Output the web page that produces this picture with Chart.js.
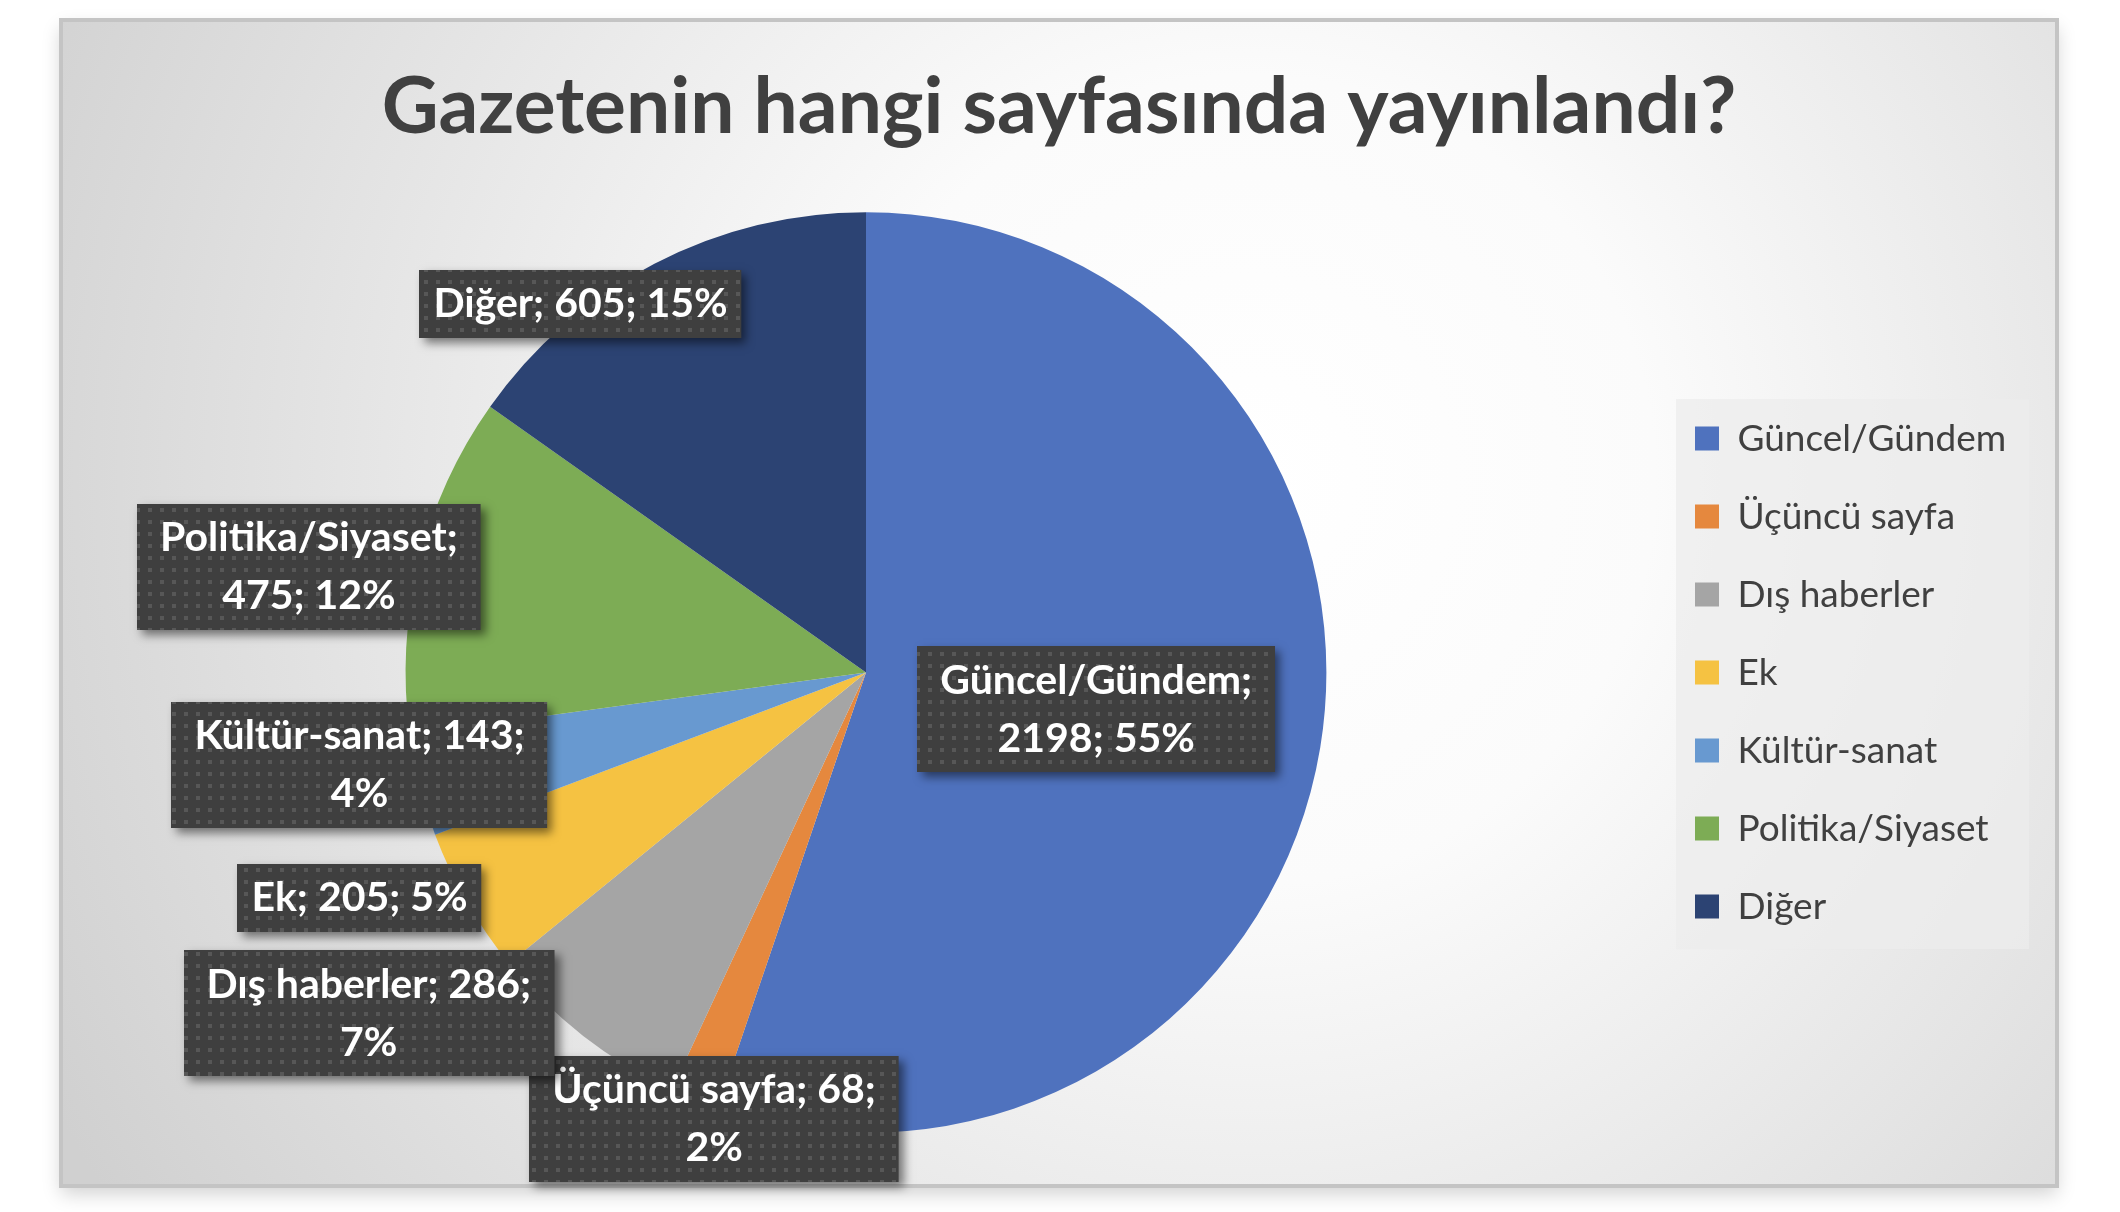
<!DOCTYPE html>
<html><head><meta charset="utf-8">
<script src="https://cdn.jsdelivr.net/npm/chart.js@4.4.1/dist/chart.umd.min.js"></script>
<style>html,body{margin:0;padding:0;background:#fff;overflow:hidden}canvas{display:block}</style>
</head><body>
<canvas id="c" width="2120" height="1212"></canvas>
<script>
// ---- data ----
const categories = ['Güncel/Gündem', 'Üçüncü sayfa', 'Dış haberler', 'Ek', 'Kültür-sanat', 'Politika/Siyaset', 'Diğer'];
const values = [2198, 68, 286, 205, 143, 475, 605];
const colors = ['#4F72BE', '#E5883E', '#A5A5A5', '#F5C242', '#6899D0', '#7DAC55', '#2C4373'];
const titleText = 'Gazetenin hangi sayfasında yayınlandı?';

// ---- label layout (in units of the pie radius, relative to the pie centre) ----
const labelOffsets = [[0.50, 0.08], [-0.33, 0.97], [-1.08, 0.74], [-1.10, 0.49], [-1.10, 0.20], [-1.21, -0.23], [-0.62, -0.80]];
const labelBreaks = [1, 2, 2, 0, 2, 1, 0]; // break the label after the n-th ';' (0 = single line)

// ---- layout constants ----
const W = 2120, H = 1212;
const CARD = {x: 61, y: 20, w: 1996, h: 1166};
const LEG_FONT = 37, LEG_BOX = 24, LEG_PAD = 41;
const LEGEND_LEFT = 1656, PIE_CX = 867, TITLE_CX = 1059;
const LBL_FONT = 41, LBL_LH = 58, LBL_PADY = 5;
const LBL_PADX = {1: 14, 2: 23};

const mctx = document.createElement('canvas').getContext('2d');
mctx.font = LEG_FONT + 'px Lato';
const legTextW = Math.max(...categories.map(t => mctx.measureText(t).width));
const legendWidth = LEG_PAD + LEG_BOX + LEG_FONT / 2 + legTextW + 8;
const padLeft = 2 * PIE_CX - LEGEND_LEFT;
const padRight = W - LEGEND_LEFT - legendWidth;

const total = values.reduce((a, b) => a + b, 0);
function labelLines(i) {
  const pct = Math.round(values[i] / total * 100) + '%';
  const parts = [categories[i], String(values[i]), pct];
  const b = labelBreaks[i];
  if (b === 0) return [parts.join('; ')];
  return [parts.slice(0, b).join('; ') + ';', parts.slice(b).join('; ')];
}

// dotted pattern for label boxes
const tile = document.createElement('canvas');
tile.width = 12; tile.height = 12;
const tctx = tile.getContext('2d');
tctx.fillStyle = 'rgba(255,255,255,0.13)';
tctx.fillRect(4, 4, 4, 4);

const bgPlugin = {
  id: 'bg',
  afterLayout(chart) {
    const tb = chart.titleBlock;
    if (tb) {
      const dx = TITLE_CX - (tb.left + tb.right) / 2;
      tb.left += dx; tb.right += dx;
    }
  },
  beforeDraw(chart) {
    const ctx = chart.ctx;
    ctx.save();
    ctx.fillStyle = '#ffffff';
    ctx.fillRect(0, 0, W, H);
    ctx.shadowColor = 'rgba(0,0,0,0.18)';
    ctx.shadowBlur = 18;
    ctx.shadowOffsetY = 8;
    ctx.fillStyle = '#dcdcdc';
    ctx.fillRect(CARD.x, CARD.y, CARD.w, CARD.h);
    ctx.restore();
    ctx.save();
    const g = ctx.createRadialGradient(1250, 480, 0, 1250, 480, 1350);
    g.addColorStop(0, '#ffffff');
    g.addColorStop(0.3, '#fbfbfb');
    g.addColorStop(1, '#d0d0d0');
    ctx.fillStyle = g;
    ctx.fillRect(CARD.x, CARD.y, CARD.w, CARD.h);
    ctx.strokeStyle = '#c4c4c4';
    ctx.lineWidth = 4;
    ctx.strokeRect(CARD.x, CARD.y, CARD.w, CARD.h);
    // legend background
    const lg = chart.legend;
    if (lg && lg.legendHitBoxes && lg.legendHitBoxes.length) {
      const hb = lg.legendHitBoxes;
      const top = hb[0].top - 21;
      const bottom = hb[hb.length - 1].top + hb[hb.length - 1].height + 24;
      const left = hb[0].left - 19;
      ctx.fillStyle = 'rgba(236,236,236,0.75)';
      ctx.fillRect(left, top, 353, bottom - top);
    }
    ctx.restore();
  },
  afterDatasetsDraw(chart) {
    const ctx = chart.ctx;
    const meta = chart.getDatasetMeta(0);
    const pattern = ctx.createPattern(tile, 'repeat');
    meta.data.forEach((arc, i) => {
      const p = arc.getProps(['x', 'y', 'outerRadius'], true);
      const cx = p.x + labelOffsets[i][0] * p.outerRadius;
      const cy = p.y + labelOffsets[i][1] * p.outerRadius;
      const lines = labelLines(i);
      ctx.save();
      ctx.font = 'bold ' + LBL_FONT + 'px Lato';
      const w = Math.max(...lines.map(l => ctx.measureText(l).width)) + 2 * LBL_PADX[lines.length];
      const h = lines.length * LBL_LH + 2 * LBL_PADY;
      const x0 = Math.round(cx - w / 2), y0 = Math.round(cy - h / 2);
      ctx.shadowColor = 'rgba(0,0,0,0.5)';
      ctx.shadowBlur = 9;
      ctx.shadowOffsetX = 5;
      ctx.shadowOffsetY = 5;
      ctx.fillStyle = '#3f3f3f';
      ctx.fillRect(x0, y0, w, h);
      ctx.restore();
      ctx.save();
      ctx.fillStyle = pattern;
      ctx.fillRect(x0, y0, w, h);
      ctx.font = 'bold ' + LBL_FONT + 'px Lato';
      ctx.fillStyle = '#ffffff';
      ctx.textAlign = 'center';
      ctx.textBaseline = 'middle';
      lines.forEach((l, k) => {
        ctx.fillText(l, cx, cy + (k - (lines.length - 1) / 2) * LBL_LH);
      });
      ctx.restore();
    });
  }
};

new Chart(document.getElementById('c'), {
  type: 'pie',
  data: {
    labels: categories,
    datasets: [{
      data: values,
      backgroundColor: colors,
      borderWidth: 0
    }]
  },
  options: {
    responsive: false,
    animation: false,
    devicePixelRatio: 1,
    layout: {padding: {left: padLeft, right: padRight, top: 20, bottom: 79}},
    plugins: {
      title: {
        display: true,
        text: titleText,
        color: '#404040',
        font: {family: 'Lato', weight: 'bold', size: 78.5, lineHeight: 1.2},
        padding: {top: 41, bottom: 57}
      },
      legend: {
        position: 'right',
        align: 'center',
        fullSize: false,
        labels: {
          color: '#404040',
          font: {family: 'Lato', size: LEG_FONT},
          boxWidth: LEG_BOX,
          boxHeight: LEG_BOX,
          padding: LEG_PAD
        }
      },
      tooltip: {enabled: false}
    }
  },
  plugins: [bgPlugin]
});
</script>
</body></html>
